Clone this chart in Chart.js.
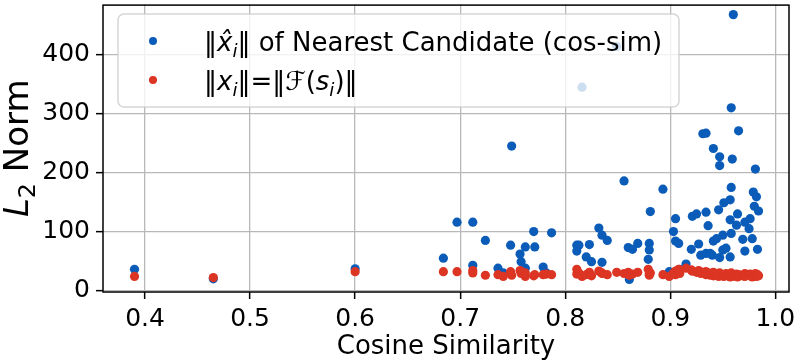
<!DOCTYPE html>
<html>
<head>
<meta charset="utf-8">
<script src="https://cdn.jsdelivr.net/npm/chart.js@4.4.0/dist/chart.umd.min.js"></script>
<style>
html, body { margin: 0; padding: 0; background: #fff; }
#wrap { width: 797px; height: 363px; }
</style>
</head>
<body>
<div id="wrap"><canvas id="chart" width="797" height="363"></canvas></div>
<script>
// cosine similarity of each sample (x)
var cosSim = [
  0.390, 0.465, 0.600, 0.684, 0.697, 0.712, 0.712, 0.724, 0.736, 0.741,
  0.748, 0.749, 0.757, 0.758, 0.762, 0.762, 0.770, 0.771, 0.779, 0.782,
  0.787, 0.811, 0.811, 0.813, 0.816, 0.820, 0.823, 0.825, 0.832, 0.835,
  0.835, 0.840, 0.849, 0.856, 0.860, 0.861, 0.864, 0.869, 0.879, 0.880,
  0.880, 0.881, 0.893, 0.899, 0.903, 0.905, 0.905, 0.908, 0.909, 0.915,
  0.920, 0.921, 0.925, 0.927, 0.929, 0.931, 0.934, 0.934, 0.934, 0.936,
  0.938, 0.940, 0.941, 0.941, 0.944, 0.946, 0.947, 0.947, 0.947, 0.950,
  0.950, 0.951, 0.953, 0.957, 0.957, 0.957, 0.958, 0.958, 0.958, 0.959,
  0.960, 0.963, 0.964, 0.965, 0.969, 0.971, 0.971, 0.975, 0.976, 0.978,
  0.979, 0.980, 0.981, 0.982, 0.983, 0.984
];
// norm of nearest candidate (blue)
var candNorm = [
  36, 20, 37, 55, 116, 116, 43, 85, 38, 30,
  77, 245, 62, 49, 74, 38, 100, 74, 40, 30,
  98, 77, 67, 77, 345, 57, 78, 49, 106, 94,
  48, 85, 414, 186, 73, 19, 70, 80, 53, 80,
  69, 134, 172, 32, 100, 122, 84, 80, 36, 45,
  70, 126, 130, 79, 60, 266, 267, 133, 63, 110,
  63, 60, 241, 84, 88, 137, 227, 212, 56, 69,
  94, 149, 72, 154, 120, 57, 175, 97, 310, 223,
  468, 111, 130, 271, 87, 116, 67, 105, 122, 88,
  167, 143, 206, 159, 70, 135
];
// norm of x_i = F(s_i) (red)
var selfNorm = [
  24, 22, 32, 32, 32, 34, 30, 26, 27, 24,
  32, 26, 34, 29, 24, 30, 25, 27, 27, 28,
  27, 36, 28, 30, 24, 27, 31, 25, 33, 29,
  30, 27, 31, 29, 31, 26, 28, 31, 36, 29,
  26, 30, 27, 24, 30, 33, 27, 36, 29, 38,
  35, 33, 31, 34, 29, 31, 27, 32, 28, 30,
  26, 29, 25, 31, 27, 24, 28, 26, 30, 25,
  27, 24, 29, 26, 23, 28, 25, 27, 30, 24,
  26, 28, 23, 27, 25, 29, 24, 26, 28, 23,
  27, 25, 29, 24, 27, 25
];
var xTicks = [0.4, 0.5, 0.6, 0.7, 0.8, 0.9, 1.0];
var yTicks = [0, 100, 200, 300, 400];

// text pieces: [text, style] n = normal, i = italic, s = italic subscript, d = normal subscript
var legendCand = [['\u2016', 'n'], ['x\u0302', 'i'], ['i', 's'], ['\u2016 of Nearest Candidate (cos-sim)', 'n']];
var legendSelf = [['\u2016', 'n'], ['x', 'i'], ['i', 's'], ['\u2016=\u2016', 'n'], ['\u2131', 'i'], ['(', 'n'], ['s', 'i'], ['i', 's'], [')\u2016', 'n']];
var yTitle = [['L', 'i'], ['2', 'd'], [' Norm', 'n']];

var BLUE = '#0a5cb8';
var RED = '#dc3524';
var FONT = '"DejaVu Sans"';

function pieceFont(p, size) {
  var sub = p[1] === 's' || p[1] === 'd';
  var fs = sub ? size * 0.7 : size;
  var st = (p[1] === 'i' || p[1] === 's') ? 'italic ' : '';
  return st + fs + 'px ' + FONT;
}
function piecesWidth(ctx, pieces, size) {
  var w = 0;
  pieces.forEach(function (p) {
    ctx.font = pieceFont(p, size);
    w += ctx.measureText(p[0]).width;
  });
  return w;
}
function drawPieces(ctx, pieces, x, y, size) {
  pieces.forEach(function (p) {
    ctx.font = pieceFont(p, size);
    var dy = (p[1] === 's' || p[1] === 'd') ? size * 0.22 : 0;
    ctx.fillText(p[0], x, y + dy);
    x += ctx.measureText(p[0]).width;
  });
}

var extras = {
  id: 'extras',
  afterDraw: function (chart) {
    var ctx = chart.ctx;
    var a = chart.chartArea;
    ctx.save();
    // frame
    ctx.strokeStyle = '#000';
    ctx.lineWidth = 1.5;
    ctx.strokeRect(a.left, a.top + 0.5, a.right - a.left, a.bottom - a.top - 0.5);

    // legend
    ctx.beginPath();
    ctx.roundRect(118, 14, 561, 93, 6);
    ctx.fillStyle = 'rgba(255,255,255,0.8)';
    ctx.fill();
    ctx.strokeStyle = 'rgba(204,204,204,0.8)';
    ctx.lineWidth = 1.5;
    ctx.stroke();
    ctx.fillStyle = BLUE;
    ctx.beginPath(); ctx.arc(153, 41, 4, 0, Math.PI * 2); ctx.fill();
    ctx.fillStyle = RED;
    ctx.beginPath(); ctx.arc(153, 80, 4, 0, Math.PI * 2); ctx.fill();
    ctx.fillStyle = '#000';
    ctx.textBaseline = 'alphabetic';
    ctx.textAlign = 'left';
    drawPieces(ctx, legendCand, 204, 51, 26);
    drawPieces(ctx, legendSelf, 204, 90, 26);

    // y axis title
    ctx.translate(28, (a.top + a.bottom) / 2);
    ctx.rotate(-Math.PI / 2);
    var w = piecesWidth(ctx, yTitle, 34);
    drawPieces(ctx, yTitle, -w / 2, 0, 34);
    ctx.restore();
  }
};

var ctx = document.getElementById('chart').getContext('2d');
new Chart(ctx, {
  type: 'scatter',
  data: {
    datasets: [
      {
        label: 'cand',
        data: cosSim.map(function (x, i) { return { x: x, y: candNorm[i] }; }),
        backgroundColor: BLUE,
        borderWidth: 0,
        pointRadius: 4.6,
        order: 2
      },
      {
        label: 'self',
        data: cosSim.map(function (x, i) { return { x: x, y: selfNorm[i] }; }),
        backgroundColor: RED,
        borderWidth: 0,
        pointRadius: 4.6,
        order: 1
      }
    ]
  },
  options: {
    responsive: false,
    animation: false,
    devicePixelRatio: 1,
    layout: { padding: { top: 1, right: 8, left: 0, bottom: 0 } },
    plugins: { legend: { display: false }, tooltip: { enabled: false } },
    scales: {
      x: {
        type: 'linear',
        min: 0.36,
        max: 1.013,
        afterBuildTicks: function (s) { s.ticks = xTicks.map(function (v) { return { value: v }; }); },
        afterFit: function (s) { s.height = 71; s.paddingLeft = 0; s.paddingRight = 0; },
        ticks: {
          color: '#000',
          font: { family: 'DejaVu Sans', size: 25 },
          padding: 5,
          maxRotation: 0,
          callback: function (v) { return Number(v).toFixed(1); }
        },
        grid: { color: '#b8b8b8', lineWidth: 1.3, tickColor: '#000', tickLength: 7, tickWidth: 1.5 },
        border: { display: false },
        title: {
          display: true,
          text: 'Cosine Similarity',
          color: '#000',
          font: { family: 'DejaVu Sans', size: 26 },
          padding: 0
        }
      },
      y: {
        min: -2.4,
        max: 485,
        afterBuildTicks: function (s) { s.ticks = yTicks.map(function (v) { return { value: v }; }); },
        afterFit: function (s) { s.width = 103; s.paddingTop = 0; s.paddingBottom = 0; },
        ticks: {
          color: '#000',
          font: { family: 'DejaVu Sans', size: 25 },
          padding: 6
        },
        grid: { color: '#b8b8b8', lineWidth: 1.3, tickColor: '#000', tickLength: 7, tickWidth: 1.5 },
        border: { display: false }
      }
    }
  },
  plugins: [extras]
});
</script>
</body>
</html>
